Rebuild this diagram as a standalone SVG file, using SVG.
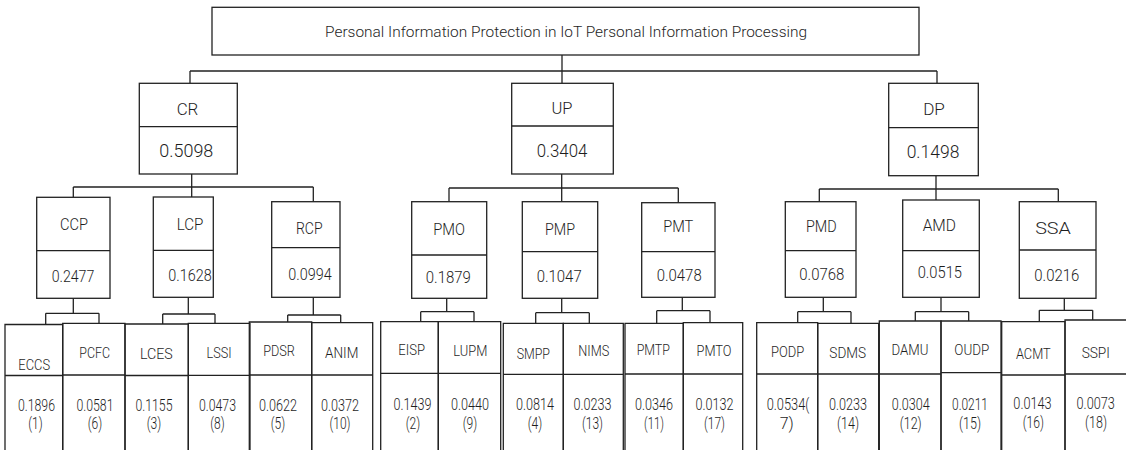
<svg xmlns="http://www.w3.org/2000/svg" width="1126" height="450" viewBox="0 0 1126 450">
<style>
.box{fill:#fff;stroke:#222;stroke-width:1.3}
.ln{fill:none;stroke:#222;stroke-width:1.3}
text{font-family:Roboto,"Liberation Sans",Arial,sans-serif;font-weight:300;fill:#1e1e1e;text-anchor:middle}
.t1{font-size:15px}
.l0{font-size:16px}
.v0{font-size:18px}
.l1{font-size:16px}
.v1{font-size:17px}
.l2{font-size:15px}
.v2{font-size:17px}
</style>
<rect width="1126" height="450" fill="#fff"/>
<g id="connectors" class="ln">
<path d="M562,55V83M190,71H937M190,71V83M937,71V83"/>
<path d="M191.7,174V187M73.3,187H313.3M73.3,187V197.3M191.7,187V197M313.3,187V201.7"/>
<path d="M561.7,174V188M449,188H678.3M449,188V201.7M561.7,188V201.7M678.3,188V202.7"/>
<path d="M936,175.7V189M819.3,189H1058.3M819.3,189V201.7M936,189V200M1058.3,189V201.7"/>
<path d="M73.3,298.3V313.3M45.7,313.3H99M45.7,313.3V324.5M99,313.3V323.3"/>
<path d="M188.3,297.3V314M162.7,314H215M162.7,314V324M215,314V323.3"/>
<path d="M313.3,297.3V315M287.7,315H340.7M287.7,315V322M340.7,315V322.7"/>
<path d="M446.7,298.3V311.7M420.7,311.7H474M420.7,311.7V321.7M474,311.7V321.7"/>
<path d="M561.7,298.3V312.7M535.7,312.7H589.3M535.7,312.7V323.3M589.3,312.7V323.3"/>
<path d="M682.3,297.3V310.7M656.7,310.7H710M656.7,310.7V323.3M710,310.7V322.7"/>
<path d="M823.3,297.3V311.7M797.7,311.7H851M797.7,311.7V322.7M851,311.7V323.3"/>
<path d="M941,297.3V311.7M915.3,311.7H968.7M915.3,311.7V321M968.7,311.7V321"/>
<path d="M1064.3,298.3V310.3M1039.3,310.3H1092.7M1039.3,310.3V321.7M1092.7,310.3V320"/>
</g>
<g id="root"><rect class="box" x="212" y="7.3" width="707" height="47.7"/><text class="t1" x="566" y="37.3" textLength="482" lengthAdjust="spacingAndGlyphs">Personal Information Protection in IoT Personal Information Processing</text></g>
<g id="CR"><rect class="box" x="139.3" y="83.3" width="98" height="90.7"/><path class="ln" d="M139.3,126.7H237.3"/><text class="l0" x="187.5" y="115" textLength="21.7" lengthAdjust="spacingAndGlyphs">CR</text><text class="v0" x="186.3" y="157.3" textLength="54" lengthAdjust="spacingAndGlyphs">0.5098</text></g>
<g id="UP"><rect class="box" x="511.7" y="83.3" width="101.6" height="90.7"/><path class="ln" d="M511.7,126H613.3"/><text class="l0" x="562" y="114" textLength="21" lengthAdjust="spacingAndGlyphs">UP</text><text class="v0" x="562" y="157.3" textLength="50.7" lengthAdjust="spacingAndGlyphs">0.3404</text></g>
<g id="DP"><rect class="box" x="888.7" y="83.3" width="89.6" height="92.4"/><path class="ln" d="M888.7,127.7H978.3"/><text class="l0" x="934" y="115" textLength="21.7" lengthAdjust="spacingAndGlyphs">DP</text><text class="v0" x="933" y="158.3" textLength="52.7" lengthAdjust="spacingAndGlyphs">0.1498</text></g>
<g id="CCP"><rect class="box" x="36.7" y="197.3" width="73.3" height="101"/><path class="ln" d="M36.7,250.7H110"/><text class="l1" x="74" y="230" textLength="28" lengthAdjust="spacingAndGlyphs">CCP</text><text class="v1" x="73" y="281.7" textLength="42.7" lengthAdjust="spacingAndGlyphs">0.2477</text></g>
<g id="LCP"><rect class="box" x="153.3" y="197" width="60" height="100.3"/><path class="ln" d="M153.3,250.3H213.3"/><text class="l1" x="190" y="230" textLength="26.7" lengthAdjust="spacingAndGlyphs">LCP</text><text class="v1" x="190" y="281" textLength="43.3" lengthAdjust="spacingAndGlyphs">0.1628</text></g>
<g id="RCP"><rect class="box" x="271.7" y="201.7" width="68.3" height="95.6"/><path class="ln" d="M271.7,247.7H340"/><text class="l1" x="309.3" y="234.3" textLength="26.7" lengthAdjust="spacingAndGlyphs">RCP</text><text class="v1" x="310" y="280" textLength="43.3" lengthAdjust="spacingAndGlyphs">0.0994</text></g>
<g id="PMO"><rect class="box" x="411.7" y="201.7" width="75" height="96.6"/><path class="ln" d="M411.7,255H486.7"/><text class="l1" x="449" y="235" textLength="31.7" lengthAdjust="spacingAndGlyphs">PMO</text><text class="v1" x="448.3" y="283.3" textLength="45" lengthAdjust="spacingAndGlyphs">0.1879</text></g>
<g id="PMP"><rect class="box" x="522.3" y="201.7" width="75.4" height="96.6"/><path class="ln" d="M522.3,251.7H597.7"/><text class="l1" x="560" y="235" textLength="30" lengthAdjust="spacingAndGlyphs">PMP</text><text class="v1" x="559.2" y="282" textLength="45" lengthAdjust="spacingAndGlyphs">0.1047</text></g>
<g id="PMT"><rect class="box" x="641.7" y="202.7" width="73.3" height="94.6"/><path class="ln" d="M641.7,251.7H715"/><text class="l1" x="678.3" y="232.3" textLength="30" lengthAdjust="spacingAndGlyphs">PMT</text><text class="v1" x="679.2" y="281" textLength="45" lengthAdjust="spacingAndGlyphs">0.0478</text></g>
<g id="PMD"><rect class="box" x="785.3" y="201.7" width="70.7" height="95.6"/><path class="ln" d="M785.3,250.7H856"/><text class="l1" x="821.3" y="232.3" textLength="30.7" lengthAdjust="spacingAndGlyphs">PMD</text><text class="v1" x="821.8" y="280" textLength="45" lengthAdjust="spacingAndGlyphs">0.0768</text></g>
<g id="AMD"><rect class="box" x="902.7" y="200" width="76.6" height="97.3"/><path class="ln" d="M902.7,250.7H979.3"/><text class="l1" x="939.3" y="231" textLength="33.3" lengthAdjust="spacingAndGlyphs">AMD</text><text class="v1" x="939.8" y="277.7" textLength="44.3" lengthAdjust="spacingAndGlyphs">0.0515</text></g>
<g id="SSA"><rect class="box" x="1019.3" y="201.7" width="76.7" height="96.6"/><path class="ln" d="M1019.3,250H1096"/><text class="l1" x="1053" y="234.3" textLength="35.7" lengthAdjust="spacingAndGlyphs">SSA</text><text class="v1" x="1056.8" y="281" textLength="45" lengthAdjust="spacingAndGlyphs">0.0216</text></g>
<g id="ECCS"><path class="ln" d="M5,450V324.5H62.7V450M5,375.5H62.7"/><text class="l2" x="34.2" y="370" textLength="31.7" lengthAdjust="spacingAndGlyphs">ECCS</text><text class="v2" x="36.5" y="410.5" textLength="37" lengthAdjust="spacingAndGlyphs">0.1896</text><text class="v2" x="35.5" y="429" textLength="14.5" lengthAdjust="spacingAndGlyphs">(1)</text></g>
<g id="PCFC"><path class="ln" d="M62.7,450V323.3H125V450M62.7,375H125"/><text class="l2" x="94.7" y="358" textLength="30.7" lengthAdjust="spacingAndGlyphs">PCFC</text><text class="v2" x="95" y="410.5" textLength="37" lengthAdjust="spacingAndGlyphs">0.0581</text><text class="v2" x="95" y="429" textLength="14.5" lengthAdjust="spacingAndGlyphs">(6)</text></g>
<g id="LCES"><path class="ln" d="M125,450V324H188.3V450M125,375.5H188.3"/><text class="l2" x="156.3" y="359" textLength="32.7" lengthAdjust="spacingAndGlyphs">LCES</text><text class="v2" x="154" y="410.5" textLength="37" lengthAdjust="spacingAndGlyphs">0.1155</text><text class="v2" x="154" y="429" textLength="14.5" lengthAdjust="spacingAndGlyphs">(3)</text></g>
<g id="LSSI"><path class="ln" d="M188.3,450V323.3H250V450M188.3,375.3H250"/><text class="l2" x="219" y="358" textLength="25" lengthAdjust="spacingAndGlyphs">LSSI</text><text class="v2" x="217.5" y="410.5" textLength="37" lengthAdjust="spacingAndGlyphs">0.0473</text><text class="v2" x="217.5" y="429" textLength="14.5" lengthAdjust="spacingAndGlyphs">(8)</text></g>
<g id="PDSR"><path class="ln" d="M249.3,450V322H311.7V450M249.3,375H311.7"/><text class="l2" x="279" y="356" textLength="31.7" lengthAdjust="spacingAndGlyphs">PDSR</text><text class="v2" x="278" y="410.5" textLength="38" lengthAdjust="spacingAndGlyphs">0.0622</text><text class="v2" x="278" y="429" textLength="14.5" lengthAdjust="spacingAndGlyphs">(5)</text></g>
<g id="ANIM"><path class="ln" d="M311.7,450V322.7H372.7V450M311.7,375H372.7"/><text class="l2" x="341.7" y="358" textLength="33.3" lengthAdjust="spacingAndGlyphs">ANIM</text><text class="v2" x="340" y="410.5" textLength="38" lengthAdjust="spacingAndGlyphs">0.0372</text><text class="v2" x="340" y="429" textLength="21" lengthAdjust="spacingAndGlyphs">(10)</text></g>
<g id="EISP"><path class="ln" d="M380.7,450V321.7H438.3V450M380.7,373.3H438.3"/><text class="l2" x="411.7" y="355" textLength="26.7" lengthAdjust="spacingAndGlyphs">EISP</text><text class="v2" x="412.5" y="410" textLength="38" lengthAdjust="spacingAndGlyphs">0.1439</text><text class="v2" x="413" y="428.5" textLength="14.5" lengthAdjust="spacingAndGlyphs">(2)</text></g>
<g id="LUPM"><path class="ln" d="M438.3,450V321.7H500.7V450M438.3,373.3H500.7"/><text class="l2" x="470.3" y="355.5" textLength="34" lengthAdjust="spacingAndGlyphs">LUPM</text><text class="v2" x="470" y="410" textLength="38" lengthAdjust="spacingAndGlyphs">0.0440</text><text class="v2" x="470" y="428.5" textLength="14.5" lengthAdjust="spacingAndGlyphs">(9)</text></g>
<g id="SMPP"><path class="ln" d="M503.3,450V323.3H563.3V450M503.3,374.3H563.3"/><text class="l2" x="533.3" y="358.5" textLength="33.3" lengthAdjust="spacingAndGlyphs">SMPP</text><text class="v2" x="535" y="410" textLength="38" lengthAdjust="spacingAndGlyphs">0.0814</text><text class="v2" x="535" y="428.5" textLength="14.5" lengthAdjust="spacingAndGlyphs">(4)</text></g>
<g id="NIMS"><path class="ln" d="M563.3,450V323.3H623.3V450M563.3,374.3H623.3"/><text class="l2" x="593.8" y="355.5" textLength="31" lengthAdjust="spacingAndGlyphs">NIMS</text><text class="v2" x="592.5" y="410" textLength="38" lengthAdjust="spacingAndGlyphs">0.0233</text><text class="v2" x="592.5" y="428.5" textLength="21" lengthAdjust="spacingAndGlyphs">(13)</text></g>
<g id="PMTP"><path class="ln" d="M625,450V323.3H683.3V450M625,374H683.3"/><text class="l2" x="653.3" y="354.5" textLength="33.3" lengthAdjust="spacingAndGlyphs">PMTP</text><text class="v2" x="654" y="410" textLength="38" lengthAdjust="spacingAndGlyphs">0.0346</text><text class="v2" x="654" y="428.5" textLength="20" lengthAdjust="spacingAndGlyphs">(11)</text></g>
<g id="PMTO"><path class="ln" d="M683.3,450V322.7H742.7V450M683.3,374H742.7"/><text class="l2" x="714" y="355.5" textLength="35" lengthAdjust="spacingAndGlyphs">PMTO</text><text class="v2" x="714.5" y="410" textLength="38" lengthAdjust="spacingAndGlyphs">0.0132</text><text class="v2" x="714.5" y="428.5" textLength="21" lengthAdjust="spacingAndGlyphs">(17)</text></g>
<g id="PODP"><path class="ln" d="M756.7,450V322.7H817.7V450M756.7,374H817.7"/><text class="l2" x="787.7" y="357" textLength="33.3" lengthAdjust="spacingAndGlyphs">PODP</text><text class="v2" x="788" y="410" textLength="42.7" lengthAdjust="spacingAndGlyphs">0.0534(</text><text class="v2" x="786.8" y="428.5" textLength="14" lengthAdjust="spacingAndGlyphs">7)</text></g>
<g id="SDMS"><path class="ln" d="M817.7,450V323.3H878.7V450M817.7,374H878.7"/><text class="l2" x="847.7" y="358" textLength="36.7" lengthAdjust="spacingAndGlyphs">SDMS</text><text class="v2" x="848" y="410" textLength="38" lengthAdjust="spacingAndGlyphs">0.0233</text><text class="v2" x="848" y="428.5" textLength="22" lengthAdjust="spacingAndGlyphs">(14)</text></g>
<g id="DAMU"><path class="ln" d="M879.3,450V321H941V450M879.3,374H941"/><text class="l2" x="910" y="355" textLength="37" lengthAdjust="spacingAndGlyphs">DAMU</text><text class="v2" x="910.7" y="410" textLength="38" lengthAdjust="spacingAndGlyphs">0.0304</text><text class="v2" x="910.7" y="428.5" textLength="22" lengthAdjust="spacingAndGlyphs">(12)</text></g>
<g id="OUDP"><path class="ln" d="M941,450V321H1001V450M941,372.7H1001"/><text class="l2" x="971.8" y="355" textLength="35" lengthAdjust="spacingAndGlyphs">OUDP</text><text class="v2" x="970" y="410" textLength="36" lengthAdjust="spacingAndGlyphs">0.0211</text><text class="v2" x="970" y="428.5" textLength="22" lengthAdjust="spacingAndGlyphs">(15)</text></g>
<g id="ACMT"><path class="ln" d="M1001.7,450V321.7H1065V450M1001.7,375H1065"/><text class="l2" x="1033.3" y="359" textLength="34.7" lengthAdjust="spacingAndGlyphs">ACMT</text><text class="v2" x="1032.5" y="409" textLength="38.3" lengthAdjust="spacingAndGlyphs">0.0143</text><text class="v2" x="1033.3" y="428" textLength="21.3" lengthAdjust="spacingAndGlyphs">(16)</text></g>
<g id="SSPI"><path class="ln" d="M1065,450V320H1126M1065,374H1126"/><text class="l2" x="1095.8" y="357.5" textLength="28.3" lengthAdjust="spacingAndGlyphs">SSPI</text><text class="v2" x="1095.7" y="409" textLength="38.3" lengthAdjust="spacingAndGlyphs">0.0073</text><text class="v2" x="1096" y="428" textLength="22" lengthAdjust="spacingAndGlyphs">(18)</text></g>
</svg>
